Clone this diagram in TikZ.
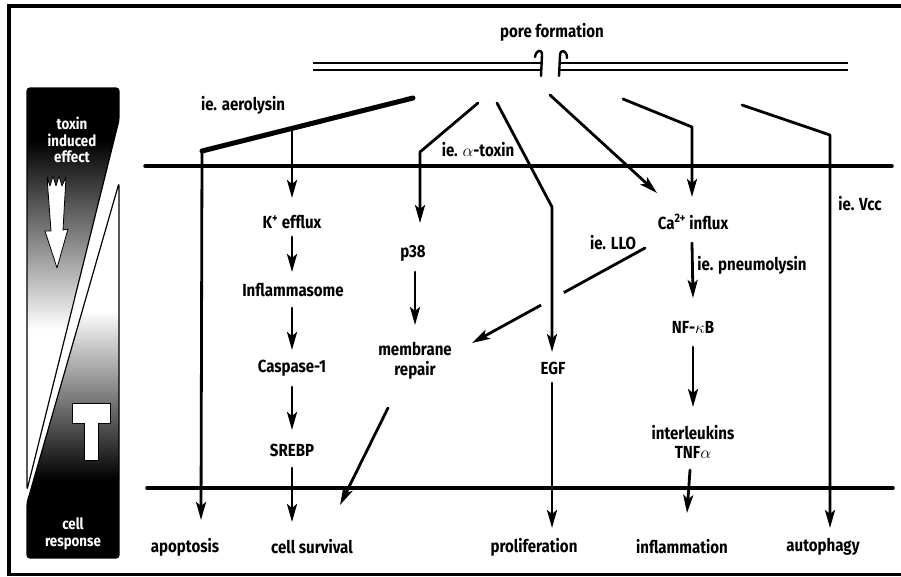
\documentclass[tikz,border=0pt]{standalone}
\usepackage{fontspec}
\setmainfont{Fira Sans}[FakeStretch=0.86]
\usetikzlibrary{arrows.meta,calc}
\begin{document}
\begin{tikzpicture}[x=1pt,y=-1pt,
  lbl/.style={font=\bfseries\fontsize{17.5}{19.5}\selectfont, inner sep=0pt, align=center},
  wl/.style={font=\bfseries\fontsize{15.5}{16.5}\selectfont, inner sep=0pt, align=center, text=white},
  ln/.style={line width=2.8pt, line cap=round, line join=round},
  thick5/.style={line width=5pt, line cap=round, line join=round},
  arr/.style={ln, -{Stealth[length=18pt,width=10pt,inset=4pt]}},
  memb/.style={line width=3.5pt, line cap=round},
  dbl/.style={line width=2.3pt},
  outl/.style={line width=1.2pt, line join=round},
]
\useasboundingbox (0,0) rectangle (901,576);
\fill[white] (0,0) rectangle (901,576);
% frame
\draw[line width=4pt] (9,576) -- (9,6) -- (901,6);
\draw[line width=3pt] (9,574) -- (901,574);

% ---------- left bar ----------
\begin{scope}
  \clip[rounded corners=3pt] (27,88) -- (119,88) -- (119,120) -- (27,490) -- cycle;
  \fill[black] (27,88) rectangle (119,140);
  \shade[top color=black, bottom color=white] (27,140) rectangle (119,330);
\end{scope}
\draw[outl, rounded corners=3pt] (27,88) -- (119,88) -- (119,120) -- (27,490) -- cycle;
\begin{scope}
  \clip[rounded corners=3pt] (119,183) -- (119,558) -- (27,558) -- (27,503) -- cycle;
  \shade[top color=white, bottom color=black] (27,310) rectangle (119,480);
  \fill[black] (27,480) rectangle (119,558);
\end{scope}
\draw[outl, rounded corners=3pt] (119,183) -- (119,558) -- (27,558) -- (27,503) -- cycle;

\node[wl] (tie) at (72,140) {toxin\\induced\\effect};
\node[wl] (cr) at (73,534) {cell\\response};
% white jagged arrow
\draw[fill=white, line width=0.8pt, line join=round]
  (47,177) -- (50,186) -- (53,176) -- (56,186) -- (59,176) -- (62,186) -- (66,177)
  -- (63,230) -- (68,229) -- (57,268) -- (45,231) -- (51,231) -- cycle;
% T
\draw[fill=white, line width=0.8pt]
  (72,403) -- (110,403) -- (110,423) -- (98,423) -- (98,460) -- (84,460) -- (84,423) -- (72,423) -- cycle;

% ---------- membranes ----------
\draw[dbl] (313,63) -- (541,63);
\draw[dbl] (313,70) -- (541,70);
\draw[dbl] (560,63) -- (848,63);
\draw[dbl] (560,70) -- (848,70);
\draw[ln, line width=2.4pt] (535,57) .. controls (536,50) and (542,48) .. (542,55) -- (541,76);
\draw[ln, line width=2.4pt] (567,58) .. controls (567,50) and (560,48) .. (560,56) -- (559,76);
\node[lbl] (pore) at (552,32) {pore formation};

\coordinate (m1a) at (145,166); \coordinate (m1b) at (892,166);
\coordinate (m2a) at (147,488); \coordinate (m2b) at (893,488);
\draw[memb] (m1a) -- (m1b);
\draw[memb] (m2a) -- (m2b);

% ---------- labels ----------
\node[lbl] (aer) at (243,105) {ie. aerolysin};
\node[lbl] (atox) at (478,150) {ie. $\alpha$-toxin};
\node[lbl] (kef) at (292,222) {K\textsuperscript{+} efflux};
\node[lbl] (p38) at (413,253) {p38};
\node[lbl] (ca) at (693,222) {Ca\textsuperscript{2+} influx};
\node[lbl] (llo) at (613,243) {ie. LLO};
\node[lbl] (pneu) at (752,265) {ie. pneumolysin};
\node[lbl] (vcc) at (860,204) {ie. Vcc};
\node[lbl] (infl) at (293,290) {Inflammasome};
\node[lbl] (nfkb) at (693,327) {NF-$\kappa$B};
\node[lbl] (casp) at (292,368) {Caspase-1};
\node[lbl] (memrep) at (415,361) {membrane\\repair};
\node[lbl] (egf) at (553,368) {EGF};
\node[lbl] (srebp) at (292,450) {SREBP};
\node[lbl] (il) at (693,442) {interleukins\\TNF$\alpha$};
\node[lbl] (apo) at (185,547) {apoptosis};
\node[lbl] (surv) at (312,547) {cell survival};
\node[lbl] (prol) at (534,547) {proliferation};
\node[lbl] (inflm) at (682,547) {inflammation};
\node[lbl] (auto) at (823,547) {autophagy};

% ---------- coordinates ----------
\coordinate (a0) at (413,98); \coordinate (a1) at (202,151); \coordinate (a2) at (201,520);
\coordinate (ab) at (292,130); \coordinate (abt) at (292,198);
\coordinate (t0) at (478,103); \coordinate (t1) at (420,152); \coordinate (t2) at (420,223);
\coordinate (e0) at (497,103); \coordinate (e1) at (552,207); \coordinate (e2) at (552,352);
\coordinate (c0) at (550,95); \coordinate (c1) at (657,193);
\coordinate (d0) at (623,99); \coordinate (d1) at (692,127); \coordinate (d2) at (692,197);
\coordinate (v0) at (742,105); \coordinate (v1) at (830,135); \coordinate (v2) at (830,528);
\coordinate (l0) at (645,248); \coordinate (l1) at (472,343);
\coordinate (pn0) at (692,243); \coordinate (pn1) at (693,298);
\coordinate (nf0) at (693,347); \coordinate (nf1) at (693,407);
\coordinate (il0) at (690,470); \coordinate (il1) at (687,513);
\coordinate (eg0) at (552,383); \coordinate (eg1) at (552,528);
\coordinate (k0) at (292,237); \coordinate (k1) at (292,272);
\coordinate (i0) at (292,308); \coordinate (i1) at (292,350);
\coordinate (cs0) at (292,387); \coordinate (cs1) at (292,430);
\coordinate (s0) at (292,468); \coordinate (s1) at (292,522);
\coordinate (p0) at (415,272); \coordinate (p1) at (415,325);
\coordinate (r0) at (388,408); \coordinate (r1) at (340,505);

% ---------- connectors ----------
\draw[thick5] (a0) -- (a1);
\draw[arr] (a1) -- (a2);
\draw[arr] (ab) -- (abt);
\draw[arr] (t0) -- (t1) -- (t2);
\draw[arr] (c0) -- (c1);
\draw[arr] (d0) -- (d1) -- (d2);
\draw[arr] (v0) -- (v1) -- (v2);
\draw[arr] (l0) -- (l1);
\draw[white, line width=9pt] ($(l0)!0.47!(l1)$) -- ($(l0)!0.60!(l1)$);
\draw[arr] (e0) -- (e1) -- (e2);
\draw[arr] (pn0) -- (pn1);
\draw[arr] (nf0) -- (nf1);
\draw[arr] (il0) -- (il1);
\draw[arr] (eg0) -- (eg1);
\draw[arr] (k0) -- (k1);
\draw[arr] (i0) -- (i1);
\draw[arr] (cs0) -- (cs1);
\draw[arr] (s0) -- (s1);
\draw[arr] (p0) -- (p1);
\draw[arr] (r0) -- (r1);
\end{tikzpicture}
\end{document}
